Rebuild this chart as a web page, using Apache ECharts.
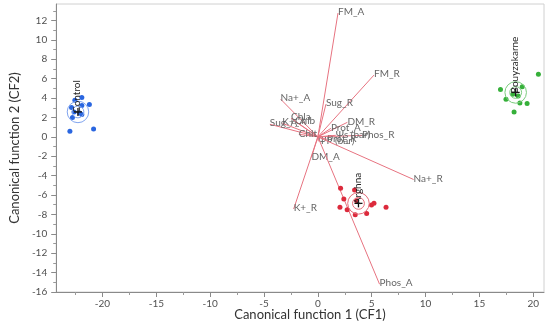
<!DOCTYPE html>
<html><head><meta charset="utf-8">
<script src="https://cdn.jsdelivr.net/npm/echarts@6/dist/echarts.min.js"></script>
<style>html,body{margin:0;padding:0;background:#fff}#c{width:550px;height:332px}</style>
</head><body><div id="c"></div>
<script>
// ---- data ----
const xTickLabels = [-20, -15, -10, -5, 0, 5, 10, 15, 20];
const xMinorTicks = [-22.5, -17.5, -12.5, -7.5, -2.5, 2.5, 7.5, 12.5, 17.5];
const yTickLabels = [-16, -14, -12, -10, -8, -6, -4, -2, 0, 2, 4, 6, 8, 10, 12];
const yMinorTicks = [-15, -13, -11, -9, -7, -5, -3, -1, 1, 3, 5, 7, 9, 11, 13];

const controlPts = [[-22.57,3.78],[-21.92,4.06],[-21.22,3.34],[-22.88,3.03],[-21.92,3.23],[-22.79,1.99],[-21.92,2.30],[-23.03,0.57],[-20.83,0.81],[-22.64,2.57],[-22.12,2.47]];
const arghnaPts = [[2.11,-5.31],[3.41,-5.47],[2.05,-7.27],[2.72,-7.51],[3.47,-8.03],[4.53,-7.90],[4.98,-7.03],[5.21,-6.86],[6.33,-7.27],[2.41,-6.40],[3.60,-6.60]];
const bouyPts = [[20.48,6.45],[16.96,4.89],[17.47,3.89],[18.22,2.57],[18.76,3.50],[19.43,3.44],[18.98,5.16],[18.10,4.40],[18.60,4.20]];

const groupNames = ['Control', 'Arghna', 'Bouyzakarne'];
const centroidX = [-22.28, 3.77, 18.37];
const centroidY = [2.57, -6.86, 4.58];

const rayNames = ['FM_A','FM_R','Na+_A','Sug_R','Sug_A','K+_A','Chla','Chlb','Chlt','DM_R','Prot_A','Phos_R','ΨP (bar)','Prot_R','Ψs (bar)','Na+_R','DM_A','K+_R','Phos_A'];
const rayX = [1.87, 5.21, -3.46, 0.75, -4.46, -3.30, -2.49, -2.13, -1.77, 2.74, 1.21, 4.10, 0.04, 0.85, 1.66, 8.89, -0.60, -2.25, 5.73];
const rayY = [12.77, 6.37, 3.89, 3.37, 1.30, 1.40, 1.92, 1.60, 0.26, 1.50, 0.88, 0.15, -0.47, -0.26, 0.16, -4.40, -2.12, -7.44, -15.20];

// ---- chart ----
const groupColors = ['#2a66e0', '#dc2a3c', '#36b03a'];
const ringColors = ['#7fa3ee', '#e46a78', '#7acb7c'];
const font = 'Lato, "Liberation Sans", sans-serif';

const chart = echarts.init(document.getElementById('c'), null, {renderer: 'canvas'});

const rayData = rayNames.map((n, i) => [rayX[i], rayY[i], i]);
const centData = groupNames.map((n, i) => [centroidX[i], centroidY[i], i]);

function axisBase(extra) {
  return Object.assign({
    type: 'value', splitLine: {show: false},
  }, extra);
}

chart.setOption({
  animation: false,
  grid: {left: 43, right: 6, top: 4, bottom: 40, show: true, borderColor: '#d0d0d0', borderWidth: 1},
  xAxis: [
    axisBase({min: -24.3, max: 21, position: 'bottom',
      axisLine: {show: true, onZero: false, lineStyle: {color: '#8a8a8a'}},
      axisTick: {show: true, length: 5, lineStyle: {color: '#8a8a8a'}, customValues: xTickLabels},
      axisLabel: {color: '#505050', fontSize: 10, fontFamily: font, margin: 7, customValues: xTickLabels,
        formatter: v => String(v)}
    }),
    axisBase({min: -24.3, max: 21, position: 'bottom',
      axisLine: {show: false, onZero: false},
      axisTick: {show: true, length: 3, lineStyle: {color: '#9a9a9a'}, customValues: xMinorTicks},
      axisLabel: {show: false}
    })
  ],
  yAxis: [
    axisBase({min: -16, max: 13.7, position: 'left',
      axisLine: {show: true, onZero: false, lineStyle: {color: '#8a8a8a'}},
      axisTick: {show: true, length: 5, lineStyle: {color: '#8a8a8a'}, customValues: yTickLabels},
      axisLabel: {color: '#505050', fontSize: 10, fontFamily: font, margin: 9, customValues: yTickLabels,
        formatter: v => String(v)},
      name: 'Canonical function 2 (CF2)', nameLocation: 'middle', nameGap: 31,
      nameTextStyle: {color: '#333', fontSize: 13, fontFamily: font}
    }),
    axisBase({min: -16, max: 13.7, position: 'left',
      axisLine: {show: false, onZero: false},
      axisTick: {show: true, length: 3, lineStyle: {color: '#9a9a9a'}, customValues: yMinorTicks},
      axisLabel: {show: false}
    })
  ],
  graphic: [{
    type: 'text', x: 310, y: 315,
    style: {text: 'Canonical function 1 (CF1)', fill: '#333', font: '13px ' + font, align: 'center', verticalAlign: 'middle'}
  }],
  series: [
    {
      type: 'custom', name: 'rays', data: rayData, z: 2,
      renderItem: function (params, api) {
        const p0 = api.coord([0, 0]);
        const p1 = api.coord([api.value(0), api.value(1)]);
        return {type: 'group', children: [
          {type: 'line', shape: {x1: p0[0], y1: p0[1], x2: p1[0], y2: p1[1]},
            style: {stroke: '#e77380', lineWidth: 1}},
          {type: 'text', x: p1[0], y: p1[1] - 1,
            style: {text: rayNames[api.value(2)], fill: '#666', font: '10px ' + font, align: 'left', verticalAlign: 'middle'}}
        ]};
      }
    },
    {type: 'scatter', name: 'Control', data: controlPts, symbolSize: 5, itemStyle: {color: groupColors[0], opacity: 1}, z: 3},
    {type: 'scatter', name: 'Arghna', data: arghnaPts, symbolSize: 5, itemStyle: {color: groupColors[1], opacity: 1}, z: 3},
    {type: 'scatter', name: 'Bouyzakarne', data: bouyPts, symbolSize: 5, itemStyle: {color: groupColors[2], opacity: 1}, z: 3},
    {
      type: 'custom', name: 'centroids', data: centData, z: 4,
      renderItem: function (params, api) {
        const gi = api.value(2);
        const c = api.coord([api.value(0), api.value(1)]);
        const rOut = api.size([1.0, 0])[0];
        const rIn = api.size([0.55, 0])[0];
        return {type: 'group', children: [
          {type: 'circle', shape: {cx: c[0], cy: c[1], r: rOut}, style: {fill: 'none', stroke: ringColors[gi], lineWidth: 1}},
          {type: 'circle', shape: {cx: c[0], cy: c[1], r: rIn}, style: {fill: 'none', stroke: ringColors[gi], lineWidth: 1}},
          {type: 'line', shape: {x1: c[0] - 4, y1: c[1], x2: c[0] + 4, y2: c[1]}, style: {stroke: '#111', lineWidth: 1.3}},
          {type: 'line', shape: {x1: c[0], y1: c[1] - 4, x2: c[0], y2: c[1] + 4}, style: {stroke: '#111', lineWidth: 1.3}},
          {type: 'text', x: c[0] - 1, y: c[1] + 1, rotation: Math.PI / 2,
            style: {text: groupNames[gi], fill: '#222', font: '10px ' + font, align: 'left', verticalAlign: 'middle'}}
        ]};
      }
    }
  ]
});
</script>
</body></html>
